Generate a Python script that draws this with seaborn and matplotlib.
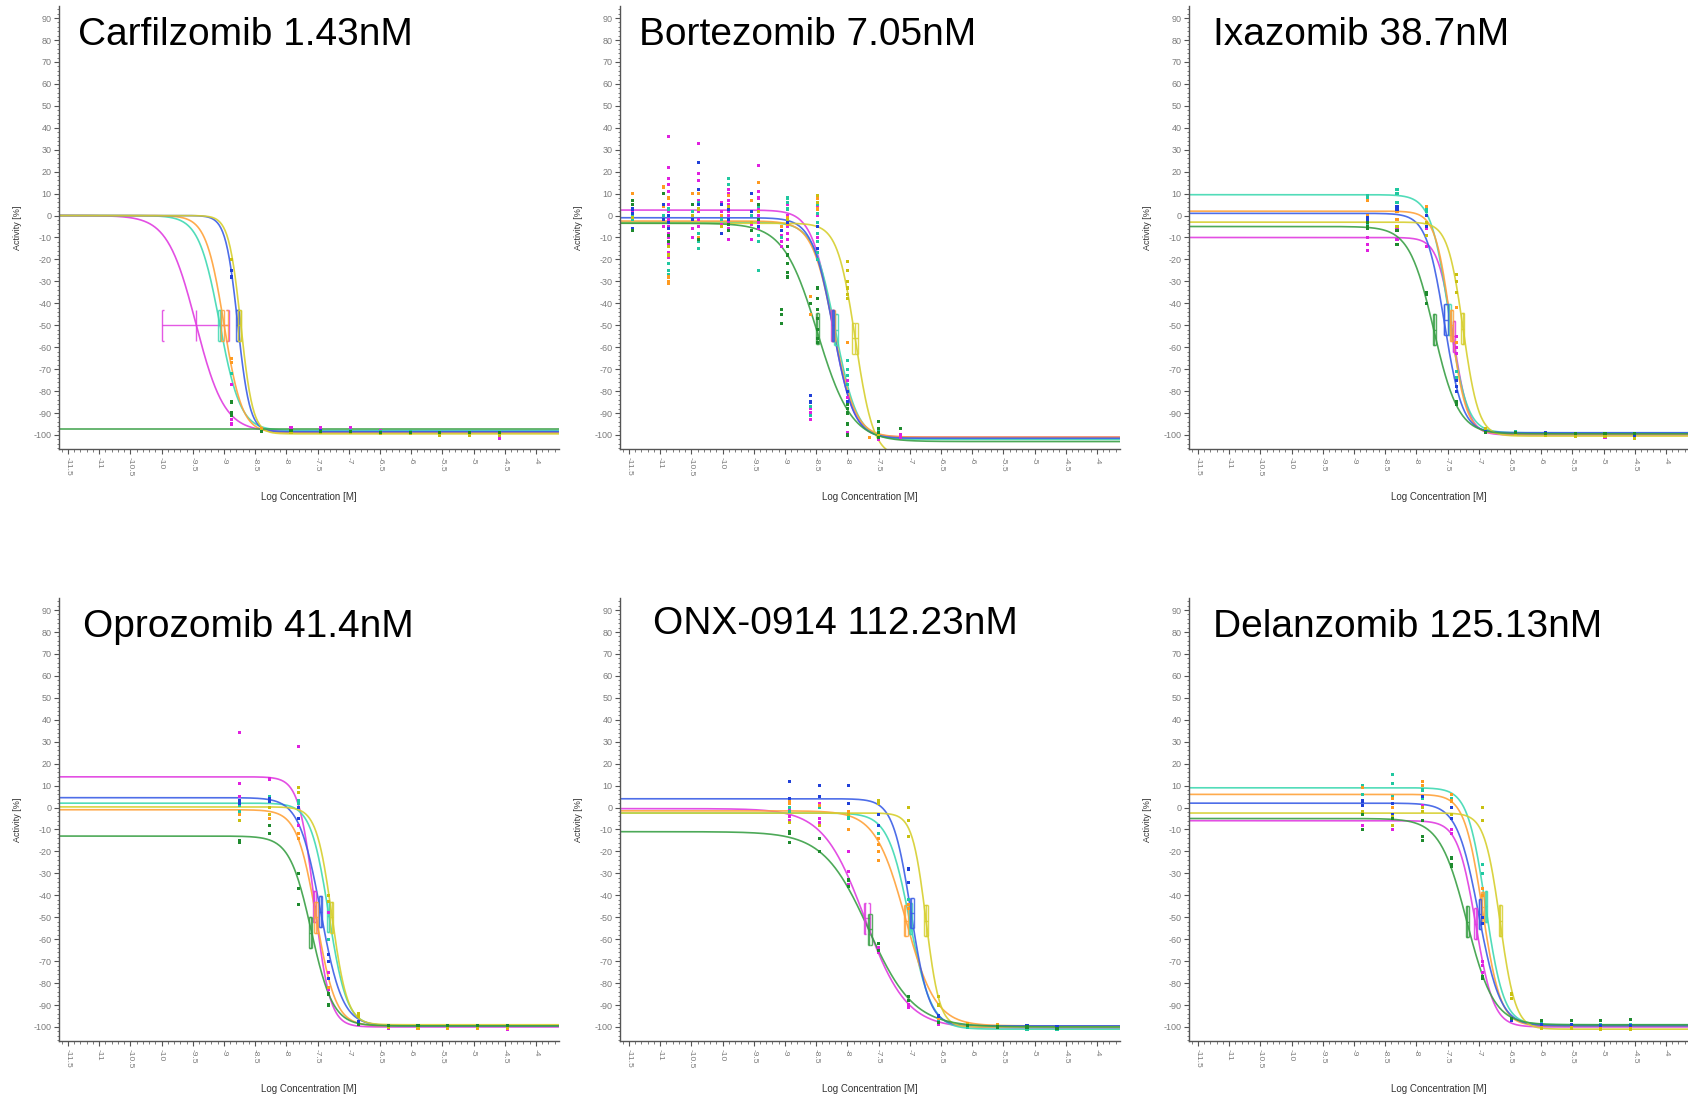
import numpy as np
import pandas as pd
import matplotlib
matplotlib.use("Agg")
import matplotlib.pyplot as plt
import seaborn as sns
from matplotlib.ticker import MultipleLocator

# ---------------- data ----------------
SERIES = ["magenta", "turquoise", "orange", "blue", "yellow", "green"]
LINE_COLORS = {"magenta": "#e03ce0", "turquoise": "#3fd9b2", "orange": "#ffa23a",
               "blue": "#3b5ee6", "yellow": "#d6cf2e", "green": "#3aa046"}
POINT_COLORS = {"magenta": "#e020e0", "turquoise": "#20c8a0", "orange": "#ff9a20",
                "blue": "#2040d8", "yellow": "#c8c010", "green": "#1e8a2e"}

TITLES = ["Carfilzomib 1.43nM", "Bortezomib 7.05nM", "Ixazomib 38.7nM",
          "Oprozomib 41.4nM", "ONX-0914 112.23nM", "Delanzomib 125.13nM"]

XTICK_LABELS = ["-11.5", "-11", "-10.5", "-10", "-9.5", "-9", "-8.5", "-8", "-7.5",
                "-7", "-6.5", "-6", "-5.5", "-5", "-4.5", "-4"]
YTICK_LABELS = ["-100", "-90", "-80", "-70", "-60", "-50", "-40", "-30", "-20", "-10",
                "0", "10", "20", "30", "40", "50", "60", "70", "80", "90"]

# 4-parameter logistic fit parameters, ordered as SERIES
CARF_TOP = [0, 0, 0, 0, 0, -97.5]
CARF_BOTTOM = [-98.5, -98, -99, -98.5, -99.5, -97.5]
CARF_LOGIC50 = [-9.45, -9.07, -9.0, -8.78, -8.73, -9.0]
CARF_HILL = [1.9, 2.6, 3.0, 4.5, 4.5, 1.0]
CARF_CI_LO = [-10.0, -9.10, -9.04, -8.80, -8.77, None]
CARF_CI_HI = [-8.92, -9.04, -8.93, -8.76, -8.73, None]
CARF_BOX_Y = [-50, -50, -50, -50, -50, None]

BORT_TOP = [2.5, -3, -2.5, -1, -3.5, -3.5]
BORT_BOTTOM = [-101, -102, -101, -101.5, -110, -103]
BORT_LOGIC50 = [-8.24, -8.19, -8.22, -8.23, -7.87, -8.48]
BORT_HILL = [2.6, 2.5, 2.5, 2.6, 3.0, 1.6]
BORT_CI_LO = [-8.27, -8.21, -8.25, -8.25, -7.92, -8.51]
BORT_CI_HI = [-8.22, -8.15, -8.20, -8.21, -7.83, -8.45]
BORT_BOX_Y = [-50, -52, -50, -50, -56, -51.5]

IXA_TOP = [-10, 9.5, 2, 1, -3, -5]
IXA_BOTTOM = [-100, -99, -99.5, -99, -100.5, -99.5]
IXA_LOGIC50 = [-7.41, -7.48, -7.45, -7.55, -7.25, -7.72]
IXA_HILL = [3.5, 3.0, 3.5, 3.0, 3.5, 2.2]
IXA_CI_LO = [-7.42, -7.50, -7.46, -7.55, -7.28, -7.74]
IXA_CI_HI = [-7.38, -7.45, -7.42, -7.50, -7.23, -7.69]
IXA_BOX_Y = [-55, -47.5, -50, -47.5, -51.5, -52]

OPRO_TOP = [14, 2, -1, 4.5, 0.3, -13]
OPRO_BOTTOM = [-100, -99.5, -99.5, -99.5, -99, -99.5]
OPRO_LOGIC50 = [-7.55, -7.32, -7.52, -7.45, -7.27, -7.60]
OPRO_HILL = [3.5, 3.0, 2.8, 2.5, 3.5, 2.5]
OPRO_CI_LO = [-7.57, -7.35, -7.55, -7.47, -7.30, -7.64]
OPRO_CI_HI = [-7.53, -7.31, -7.50, -7.43, -7.25, -7.59]
OPRO_BOX_Y = [-45, -49.5, -50, -47.5, -50, -57]

ONX_TOP = [-0.5, -2.5, -1.5, 4, -2.5, -11]
ONX_BOTTOM = [-100.5, -101, -99.5, -99.5, -100, -100]
ONX_LOGIC50 = [-7.72, -7.0, -7.07, -6.98, -6.74, -7.66]
ONX_HILL = [1.3, 2.5, 1.8, 3.0, 4.0, 1.2]
ONX_CI_LO = [-7.74, -7.01, -7.10, -6.99, -6.77, -7.67]
ONX_CI_HI = [-7.63, -6.96, -7.03, -6.93, -6.71, -7.60]
ONX_BOX_Y = [-50.5, -50.5, -51.5, -48, -51.5, -55.5]

DELA_TOP = [-6, 9, 6, 2, -2.5, -5]
DELA_BOTTOM = [-100, -99, -99.5, -99.5, -101, -99]
DELA_LOGIC50 = [-7.05, -6.89, -6.94, -7.0, -6.66, -7.19]
DELA_HILL = [3.0, 3.0, 3.0, 2.5, 3.5, 2.0]
DELA_CI_LO = [-7.07, -6.90, -6.96, -7.00, -6.68, -7.21]
DELA_CI_HI = [-7.02, -6.86, -6.92, -6.96, -6.63, -7.16]
DELA_BOX_Y = [-53, -45, -45.5, -48.5, -51.5, -52]

# measured points: log concentration columns and replicate values per series
CARF_CONC = [-8.879, -8.402, -7.925, -7.448, -6.970, -6.493, -6.016, -5.539, -5.062, -4.585]
CARF_POINTS = {
    "magenta": [[-77, -93, -95], [-97, -98], [-96.5, -98], [-96.5, -98], [-96.5, -98], [-98, -99], [-98.5], [-99], [-99, -100], [-100.5, -101.5]],
    "turquoise": [[-72], [-97.5], [-98], [-98], [-98], [-98.5], [-98.5], [-99], [-99], [-99]],
    "orange": [[-65, -67], [-97], [-98.5], [-98.5], [-98.5], [-99], [-99], [-99], [-99], [-100]],
    "blue": [[-25, -28], [-98], [-98], [-98], [-98.5], [-99], [-99.5], [-99.5], [-100], [-100]],
    "yellow": [[-20], [-98], [-99], [-99], [-99], [-99.5], [-99.5], [-100], [-100], [-100]],
    "green": [[-85, -90, -91], [-98.5], [-98], [-98.5], [-98.5], [-99], [-99], [-99], [-99], [-99]],
}

BORT_CONC = [-11.44, -10.95, -10.87, -10.48, -10.39, -10.01, -9.91, -9.54, -9.43,
             -9.05, -8.96, -8.59, -8.48, -8.0, -7.64, -7.5, -7.15]
BORT_POINTS = {
    "magenta": [[2], [-5], [36, 22, 17, 14, 11, 8, 5, 2, -2, -5, -8, -10, -13, -17, -19], [-6, -10],
                [33, 19, 16, 10, 7, 5, 2, -2, -5, -8], [6, 2, -4], [12, 10, 7, 5, 2, 0, -3, -6, -11],
                [-4, -11], [23, 15, 11, 8, 5, 3, 0, -3, -6, -9], [-9, -12, -14], [5, 0, -5, -8, -11],
                [-88, -90, -93], [4, 0, -5, -10, -15], [-75, -80, -83, -88, -99], [-101], [-100, -102], [-100, -101]],
    "turquoise": [[0, -2], [0], [-22, -25, -27, 3, -6], [2], [-15, -12, -8, 6], [-2], [17, 14, 4], [0],
                  [-25, -12, -9, 4], [-10], [8, 6, 3], [-87, -91], [5, 1, -3, -8, -12, -17, -20],
                  [-66, -70, -73, -77, -85], [], [-98, -99], []],
    "orange": [[10], [13, 4], [-28, -30, -31, 8], [10], [10, -10], [0], [9], [7], [15], [-5], [-1, -4],
               [-37, -45], [8, 3], [-58], [-101], [-100], []],
    "blue": [[3, 1, -6, -7], [5, -2], [0, -3, -6], [-2], [24, 12, 5], [5, -8], [3, -2], [10, 2], [-5],
             [-7], [-3], [-82, -85], [-5, -15], [-80, -85, -90], [], [-100], []],
    "yellow": [[-1], [], [-14, -18], [0], [3], [-5], [4], [-3], [2], [], [-2], [], [9, 6],
               [-21, -25, -30, -33, -36, -38], [], [-100], []],
    "green": [[7, 5, -7], [10], [-9, -12], [5], [-11], [], [-4, -7], [-7], [5, -2], [-43, -45, -49],
              [-14, -18, -22, -26, -28], [-40], [-33, -38, -43, -47, -52, -56, -58],
              [-86, -88, -90, -95, -100], [], [-94, -97, -99, -101], [-97]],
}

IXA_CONC = [-8.79, -8.31, -7.84, -7.36, -6.886, -6.41, -5.93, -5.454, -4.977, -4.5]
IXA_POINTS = {
    "magenta": [[-10, -13, -16], [-6, -11, -13], [-5, -6, -14], [-55, -60, -63], [-98], [-99], [-100], [-100.5], [-101], [-101.5]],
    "turquoise": [[8, 9, -4], [12, 10, 6], [2, 3], [-71, -74, -85], [-98], [-98.5], [-99], [-99.5], [-100], [-100]],
    "orange": [[7, 0], [2, -2], [4], [-42, -58], [-97.5], [-99], [-100], [-100], [-100], [-100]],
    "blue": [[-1, -2], [3, 4], [-5, 0], [-75, -78, -80], [-98.5], [-99], [-99], [-99.5], [-100], [-100]],
    "yellow": [[-5], [-5], [-9, -3], [-27, -30, -35], [-97], [-99.5], [-100], [-100.5], [-100.5], [-101.5]],
    "green": [[-5, -6, -3], [-7, -13], [-35, -36, -40], [-86, -85], [-99], [-99], [-99.5], [-99.5], [-99.5], [-99.5]],
}

OPRO_CONC = [-8.753, -8.276, -7.8, -7.32, -6.845, -6.368, -5.89, -5.414, -4.937, -4.46]
OPRO_POINTS = {
    "magenta": [[34, 11, 5], [13], [28, -8], [-48, -75, -83], [-99], [-100.5], [-100.5], [-100.5], [-100.5], [-101]],
    "turquoise": [[1, -2], [5], [3, 2], [-60], [-99], [-99.5], [-99.5], [-99.5], [-99.5], [-99.5]],
    "orange": [[-3], [-5], [-12, -14], [-82, -85], [-99], [-100], [-100.5], [-100.5], [-100.5], [-100.5]],
    "blue": [[2, 3], [4, 3], [0, -5], [-67, -70, -78], [-97.5], [-99.5], [-99.5], [-99.5], [-100], [-100]],
    "yellow": [[-6], [0, -3], [9, 7], [-40, -43], [-94, -95], [-100], [-100], [-100], [-100], [-100]],
    "green": [[-15, -16], [-8, -12], [-30, -37, -44], [-85, -90], [-99], [-99.5], [-99.5], [-99.5], [-99.5], [-99.5]],
}

ONX_CONC = [-8.93, -8.45, -7.98, -7.5, -7.02, -6.54, -6.07, -5.6, -5.12, -4.64]
ONX_POINTS = {
    "magenta": [[-1, -4, -6], [2, -5, -7], [-20, -29, -35], [-64, -66], [-90, -91], [-99], [-100], [-100], [-100], [-101]],
    "turquoise": [[0, -2], [0], [-4, -5], [-12], [-42, -44], [-97], [-100], [-100], [-101], [-101]],
    "orange": [[3, 2], [1, -8], [-2, -10], [-14, -17, -20, -24], [-44, -46], [-96], [-98.5], [-99], [-99.5], [-100.5]],
    "blue": [[12, 4], [10, 5], [10, 2], [-3, -8], [-28, -34], [-95], [-99], [-99.5], [-99.5], [-100]],
    "yellow": [[-7], [-8], [-3], [3, 2], [0, -6, -13], [-86, -90], [-99], [-99.5], [-100], [-100.5]],
    "green": [[-11, -12, -16], [-14, -20], [-33, -36], [-62, -65], [-86, -88], [-98], [-99.5], [-100], [-100], [-100.5]],
}

DELA_CONC = [-8.86, -8.38, -7.9, -7.43, -6.94, -6.47, -5.99, -5.52, -5.05, -4.57]
DELA_POINTS = {
    "magenta": [[-2, -8, -10], [2, -10], [1, -13], [-10, -12], [-70, -72, -75], [-97], [-99.5], [-99.5], [-100], [-100]],
    "turquoise": [[10, 6], [15, 11, 5], [8, 4], [4], [-26, -30], [-97], [-98.5], [-99], [-99], [-99]],
    "orange": [[9], [4, 0], [12, 10], [6, 3], [-37, -40], [-96], [-99.5], [-99.5], [-100], [-100]],
    "blue": [[3, 1], [2, -3], [5], [-5, 0], [-50, -53], [-97], [-99], [-99], [-99.5], [-99.5]],
    "yellow": [[-3, -2], [-8, -4], [-2, 0], [-3], [0, -6], [-85, -87], [-100.5], [-100.5], [-101], [-101]],
    "green": [[-3, -10], [-5], [-6, -13, -15], [-23, -26, -27], [-77, -78], [-96], [-97], [-97], [-97], [-96.5]],
}

PANELS = [
    (CARF_TOP, CARF_BOTTOM, CARF_LOGIC50, CARF_HILL, CARF_CI_LO, CARF_CI_HI, CARF_BOX_Y, CARF_CONC, CARF_POINTS),
    (BORT_TOP, BORT_BOTTOM, BORT_LOGIC50, BORT_HILL, BORT_CI_LO, BORT_CI_HI, BORT_BOX_Y, BORT_CONC, BORT_POINTS),
    (IXA_TOP, IXA_BOTTOM, IXA_LOGIC50, IXA_HILL, IXA_CI_LO, IXA_CI_HI, IXA_BOX_Y, IXA_CONC, IXA_POINTS),
    (OPRO_TOP, OPRO_BOTTOM, OPRO_LOGIC50, OPRO_HILL, OPRO_CI_LO, OPRO_CI_HI, OPRO_BOX_Y, OPRO_CONC, OPRO_POINTS),
    (ONX_TOP, ONX_BOTTOM, ONX_LOGIC50, ONX_HILL, ONX_CI_LO, ONX_CI_HI, ONX_BOX_Y, ONX_CONC, ONX_POINTS),
    (DELA_TOP, DELA_BOTTOM, DELA_LOGIC50, DELA_HILL, DELA_CI_LO, DELA_CI_HI, DELA_BOX_Y, DELA_CONC, DELA_POINTS),
]

# ---------------- layout / style ----------------
W, H = 1688, 1097
XLIM = (-11.644, -3.63)
YLIM = (-106.4, 95.5)
BOX_H = 7.0
AX_LEFT_PX = [59, 620, 1189, 59, 620, 1189]
AX_TOP_PX = [6, 6, 6, 598, 598, 598]
AX_W_PX, AX_H_PX = 500, 443
TITLE_X_PX = [78, 639, 1213, 83, 653, 1213]
TITLE_BASE_PX = [45, 45, 45, 637, 634, 637]

sns.set_style("ticks")
plt.rcParams["font.family"] = ["Liberation Sans", "DejaVu Sans"]
plt.rcParams["axes.unicode_minus"] = False

fig = plt.figure(figsize=(W / 100, H / 100), dpi=100)
fig.patch.set_facecolor("white")

xticks = [float(s) for s in XTICK_LABELS]
yticks = [float(s) for s in YTICK_LABELS]
xgrid = np.linspace(XLIM[0], XLIM[1], 600)

for i, (top, bot, ic50, hill, lo, hi, by, conc, pts) in enumerate(PANELS):
    ax = fig.add_axes([AX_LEFT_PX[i] / W, 1 - (AX_TOP_PX[i] + AX_H_PX) / H,
                       AX_W_PX / W, AX_H_PX / H])
    # fitted curves
    rows = []
    for k, s in enumerate(SERIES):
        yv = bot[k] + (top[k] - bot[k]) / (1 + 10 ** ((xgrid - ic50[k]) * hill[k]))
        rows.append(pd.DataFrame({"x": xgrid, "y": yv, "series": s}))
    cdf = pd.concat(rows, ignore_index=True)
    sns.lineplot(data=cdf, x="x", y="y", hue="series", hue_order=SERIES,
                 palette=LINE_COLORS, estimator=None, sort=False, legend=False,
                 linewidth=1.2, alpha=0.9, ax=ax)
    # IC50 confidence boxes
    for k, s in enumerate(SERIES):
        if lo[k] is None:
            continue
        c = LINE_COLORS[s]
        ax.vlines([lo[k], ic50[k], hi[k]], by[k] - BOX_H, by[k] + BOX_H,
                  colors=c, linewidth=1.0, alpha=0.85)
        ax.hlines(by[k], lo[k], hi[k], colors=c, linewidth=1.0, alpha=0.85)
        cap = 0.04
        for yy in (by[k] - BOX_H, by[k] + BOX_H):
            ax.hlines(yy, lo[k], min(lo[k] + cap, hi[k]), colors=c, linewidth=1.0, alpha=0.85)
            ax.hlines(yy, max(hi[k] - cap, lo[k]), hi[k], colors=c, linewidth=1.0, alpha=0.85)
    # measured points
    prow = []
    for s in SERIES:
        for cx, vals in zip(conc, pts[s]):
            for v in vals:
                prow.append((cx, v, s))
    pdf = pd.DataFrame(prow, columns=["x", "y", "series"])
    sns.scatterplot(data=pdf, x="x", y="y", hue="series", hue_order=SERIES,
                    palette=POINT_COLORS, marker="s", s=5, linewidth=0,
                    legend=False, ax=ax, zorder=3)

    ax.set_xlim(*XLIM)
    ax.set_ylim(*YLIM)
    ax.set_xticks(xticks)
    ax.set_xticklabels(XTICK_LABELS, rotation=-90, fontsize=6, color="#7a7a7a")
    ax.set_yticks(yticks)
    ax.set_yticklabels(YTICK_LABELS, fontsize=6.5, color="#7a7a7a")
    ax.xaxis.set_minor_locator(MultipleLocator(0.1))
    ax.yaxis.set_minor_locator(MultipleLocator(2))
    ax.tick_params(which="major", direction="out", length=3.5, width=0.8, color="#555555", pad=2)
    ax.tick_params(which="minor", direction="out", length=1.8, width=0.6, color="#666666")
    for sp in ("top", "right"):
        ax.spines[sp].set_visible(False)
    for sp in ("left", "bottom"):
        ax.spines[sp].set_color("#555555")
        ax.spines[sp].set_linewidth(1.0)
    ax.set_xlabel("Log Concentration [M]", fontsize=7, color="#333333")
    ax.set_ylabel("Activity [%]", fontsize=6.5, color="#333333")
    ax.xaxis.set_label_coords(0.5, -0.098)
    ax.yaxis.set_label_coords(-0.074, 0.5)
    ax.set_facecolor("none")

    fig.text(TITLE_X_PX[i] / W, 1 - TITLE_BASE_PX[i] / H, TITLES[i],
             fontsize=28, color="black", ha="left", va="baseline")

fig.savefig("out.png", dpi=100, facecolor="white")
